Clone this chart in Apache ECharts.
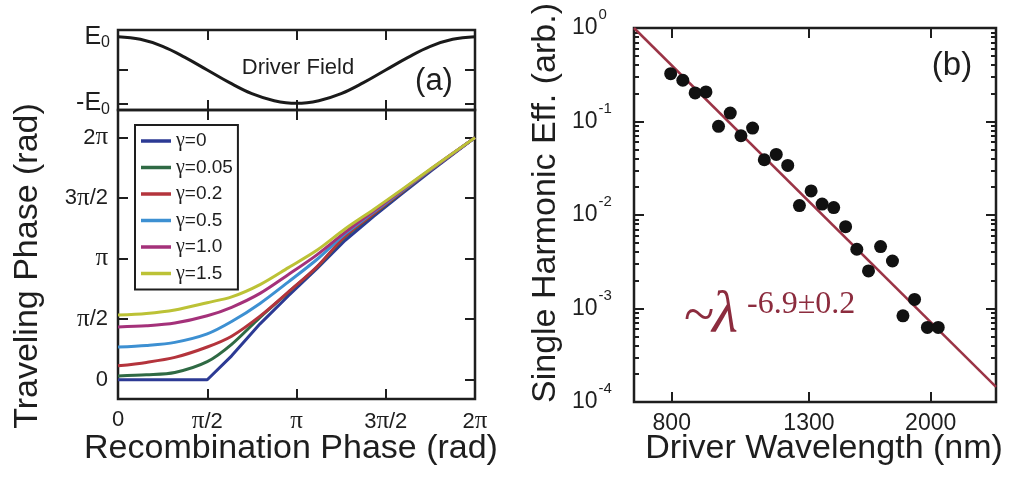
<!DOCTYPE html>
<html>
<head>
<meta charset="utf-8">
<script src="https://cdn.jsdelivr.net/npm/echarts@6/dist/echarts.min.js"></script>
<style>
  html, body { margin: 0; padding: 0; background: #fff; }
  #chart { width: 1011px; height: 481px; }
</style>
</head>
<body>
<div id="chart"></div>
<script>
const SANS = '"Liberation Sans", Arial, Helvetica, sans-serif';
const SERIF = '"Liberation Serif", "Times New Roman", serif';
const INK = '#1e1e1e';
const FIT_COLOR = '#8c2c3e';

// ---- (a) top: driver field E/E0 over one cycle ----
const fieldPhase = [0, 0.393, 0.785, 1.178, 1.571, 1.963, 2.356, 2.749, 3.142,
                    3.534, 3.927, 4.320, 4.712, 5.105, 5.498, 5.890, 6.283];
const fieldValue = [1, 0.92, 0.71, 0.38, 0, -0.38, -0.71, -0.92, -1,
                    -0.92, -0.71, -0.38, 0, 0.38, 0.71, 0.92, 1];

// ---- (a) bottom: traveling phase vs recombination phase (rad) ----
const recombPhase = [0, 0.5, 1.0, 1.571, 2.0, 2.5, 3.0, 3.5, 4.0, 4.5, 5.0, 5.5, 6.283];
const travelG0    = [0, 0, 0, 0, 0.62, 1.45, 2.18, 2.88, 3.62, 4.24, 4.83, 5.41, 6.283];
const travelG005  = [0.10, 0.13, 0.19, 0.47, 0.92, 1.62, 2.27, 2.92, 3.71, 4.30, 4.87, 5.44, 6.283];
const travelG02   = [0.36, 0.45, 0.58, 0.85, 1.13, 1.65, 2.28, 2.93, 3.73, 4.31, 4.88, 5.44, 6.283];
const travelG05   = [0.85, 0.89, 0.97, 1.19, 1.51, 1.98, 2.54, 3.12, 3.79, 4.35, 4.90, 5.45, 6.283];
const travelG10   = [1.37, 1.40, 1.47, 1.66, 1.88, 2.24, 2.73, 3.24, 3.83, 4.38, 4.92, 5.46, 6.283];
const travelG15   = [1.68, 1.72, 1.81, 2.00, 2.15, 2.47, 2.91, 3.36, 3.92, 4.42, 4.94, 5.47, 6.283];
const gammaNames  = ['γ=0', 'γ=0.05', 'γ=0.2', 'γ=0.5', 'γ=1.0', 'γ=1.5'];
const gammaColors = ['#2c3a94', '#2f6a44', '#b4343c', '#3d90d2', '#a4317a', '#bcc236'];

// ---- (b): single harmonic efficiency vs driver wavelength ----
const wavelengthNm = [797, 832, 869, 903, 944, 984, 1022, 1065, 1110, 1158, 1206, 1257,
                      1310, 1362, 1419, 1480, 1540, 1605, 1675, 1747, 1813, 1889, 1977, 2054];
const efficiency   = [0.325, 0.276, 0.202, 0.207, 0.0887, 0.123, 0.0704, 0.0851, 0.039, 0.0444,
                      0.0339, 0.0126, 0.0181, 0.0131, 0.0120, 0.00751, 0.0043, 0.00252, 0.0046,
                      0.00322, 0.000835, 0.00125, 0.000627, 0.000627];
const fitExponent = -6.9;
const fitRef = [700, 1.0];          // fit passes through this (λ, eff) point
const fitSpan = [700, 2520];        // drawn wavelength span

// ---- tick values and labels ----
const phaseTicks = [0, Math.PI / 2, Math.PI, 1.5 * Math.PI, 2 * Math.PI];
const phaseTickLabels = ['0', 'π/2', 'π', '3π/2', '2π'];
const fieldTicks = [-1, 0, 1];
const fieldLabelValues = [1, -1];
const fieldTickLabels = ['E0', '-E0'];
const wavelengthTicks = [800, 1300, 2000];
const effMajorTicks = [1e-4, 1e-3, 1e-2, 1e-1, 1];
const effMinorTicks = [];
for (const dec of [1e-4, 1e-3, 1e-2, 1e-1]) {
  for (let m = 2; m <= 9; m++) effMinorTicks.push(+(m * dec).toPrecision(3));
}

function pair(xs, ys) { return xs.map((x, i) => [x, ys[i]]); }
function piRich(s) {
  let out = '';
  for (const ch of s) out += ch === 'π' ? '{p|π}' : '{n|' + ch + '}';
  return out;
}
function phaseLabel(v) {
  const i = phaseTicks.findIndex(t => Math.abs(t - v) < 1e-6);
  return i < 0 ? '' : piRich(phaseTickLabels[i]);
}
const piRichStyle = {
  n: { fontFamily: SANS, fontSize: 22, color: INK },
  p: { fontFamily: SERIF, fontSize: 25, color: INK }
};
const noLine = { show: false, onZero: false };
const majorTick = (vals, len) => ({
  show: true, inside: true, length: len || 10, customValues: vals,
  lineStyle: { color: INK, width: 2 }
});

function phaseAxis(gridIndex, position, withLabels, range) {
  return {
    type: 'value', gridIndex, position,
    min: range[0], max: range[1],
    axisLine: noLine, splitLine: { show: false },
    axisTick: majorTick(phaseTicks),
    axisLabel: withLabels ? {
      show: true, customValues: phaseTicks, margin: 10,
      formatter: phaseLabel, rich: piRichStyle
    } : { show: false }
  };
}

const fitLine = fitSpan.map(l => [l, fitRef[1] * Math.pow(l / fitRef[0], fitExponent)]);

const chart = echarts.init(document.getElementById('chart'), null, { renderer: 'canvas' });
const gridStyle = { show: true, borderColor: INK, borderWidth: 2.5, backgroundColor: 'transparent' };
const curves = [travelG0, travelG005, travelG02, travelG05, travelG10, travelG15];

function effAxis(position, ticks, len, withLabels) {
  return {
    type: 'log', logBase: 10, gridIndex: 2, position, min: 0.99999e-4, max: 1.00001,
    axisLine: noLine, splitLine: { show: false },
    axisTick: majorTick(ticks, len),
    axisLabel: withLabels ? {
      show: true, customValues: ticks, margin: 62, align: 'left',
      formatter: v => '{b|10}{s|' + Math.round(Math.log10(v)) + '}',
      rich: {
        b: { fontFamily: SANS, fontSize: 23, color: INK },
        s: { fontFamily: SANS, fontSize: 15, color: INK, padding: [0, 0, 26, 1] }
      }
    } : { show: false }
  };
}
function wavelengthAxis(position, withLabels) {
  return {
    type: 'log', logBase: 10, gridIndex: 2, position, min: 700, max: 2520,
    axisLine: noLine, splitLine: { show: false },
    axisTick: majorTick(wavelengthTicks),
    axisLabel: withLabels ? {
      show: true, customValues: wavelengthTicks, margin: 10,
      formatter: v => String(Math.round(v)),
      fontFamily: SANS, fontSize: 23, color: INK
    } : { show: false }
  };
}
function fieldAxis(position, withLabels) {
  return {
    type: 'value', gridIndex: 0, position, min: -1.2, max: 1.2,
    axisLine: noLine, splitLine: { show: false },
    axisTick: majorTick(fieldTicks),
    axisLabel: withLabels ? {
      show: true, customValues: fieldLabelValues, margin: 8,
      formatter: v => {
        const s = fieldTickLabels[v > 0 ? 0 : 1];
        return '{e|' + s.slice(0, -1) + '}{s|' + s.slice(-1) + '}';
      },
      rich: {
        e: { fontFamily: SANS, fontSize: 25, color: INK },
        s: { fontFamily: SANS, fontSize: 16, color: INK, padding: [12, 0, 0, 0] }
      }
    } : { show: false }
  };
}

const option = {
  animation: false,
  backgroundColor: '#fff',
  textStyle: { fontFamily: SANS },
  grid: [
    Object.assign({ left: 118, top: 30, width: 357, height: 80 }, gridStyle),
    Object.assign({ left: 118, top: 110, width: 357, height: 289 }, gridStyle),
    Object.assign({ left: 634, top: 28, width: 362, height: 374 }, gridStyle)
  ],
  xAxis: [
    phaseAxis(0, 'bottom', false, [0, 2 * Math.PI]),
    phaseAxis(0, 'top', false, [0, 2 * Math.PI]),
    phaseAxis(1, 'bottom', true, [0, 2 * Math.PI]),
    phaseAxis(1, 'top', false, [0, 2 * Math.PI]),
    wavelengthAxis('bottom', true),
    wavelengthAxis('top', false)
  ],
  yAxis: [
    fieldAxis('left', true),
    fieldAxis('right', false),
    phaseAxis(1, 'left', true, [-0.5, 7]),
    phaseAxis(1, 'right', false, [-0.5, 7]),
    effAxis('left', effMajorTicks, 10, true),
    effAxis('right', effMajorTicks, 10, false),
    effAxis('left', effMinorTicks, 5, false),
    effAxis('right', effMinorTicks, 5, false)
  ],
  legend: {
    data: gammaNames,
    orient: 'vertical', left: 135, top: 125,
    padding: [6, 5, 6, 6], itemGap: 6.5,
    itemWidth: 30, itemHeight: 3.5, icon: 'rect',
    borderColor: INK, borderWidth: 2, backgroundColor: '#fff',
    selectedMode: false,
    formatter: name => '{g|γ}{t|' + name.slice(1) + '}',
    textStyle: {
      color: INK, lineHeight: 20,
      rich: {
        g: { fontFamily: SERIF, fontSize: 20, lineHeight: 20, color: INK },
        t: { fontFamily: SANS, fontSize: 19, lineHeight: 20, color: INK }
      }
    }
  },
  series: [
    {
      type: 'line', xAxisIndex: 0, yAxisIndex: 0, data: pair(fieldPhase, fieldValue),
      smooth: 0.4, symbol: 'none', lineStyle: { color: '#1a1a1a', width: 3 }, z: 3
    }
  ].concat(curves.map((vals, i) => ({
    name: gammaNames[i], type: 'line', xAxisIndex: 2, yAxisIndex: 2,
    data: pair(recombPhase, vals), smooth: i === 0 ? false : 0.3, symbol: 'none',
    color: gammaColors[i], lineStyle: { color: gammaColors[i], width: 3 }, z: 3 + i
  }))).concat([
    {
      type: 'line', xAxisIndex: 4, yAxisIndex: 4, data: fitLine, symbol: 'none',
      lineStyle: { color: '#9b3446', width: 2.5 }, z: 3
    },
    {
      type: 'scatter', xAxisIndex: 4, yAxisIndex: 4, data: pair(wavelengthNm, efficiency),
      symbol: 'circle', symbolSize: 13, itemStyle: { color: '#111', opacity: 1 }, z: 4
    }
  ]),
  graphic: [
    { type: 'text', x: 298, y: 68, style: { text: 'Driver Field', font: '22px ' + SANS, fill: INK, align: 'center', verticalAlign: 'middle' } },
    { type: 'text', x: 434, y: 81, style: { text: '(a)', font: '31px ' + SANS, fill: INK, align: 'center', verticalAlign: 'middle' } },
    { type: 'text', x: 952, y: 66, style: { text: '(b)', font: '33px ' + SANS, fill: INK, align: 'center', verticalAlign: 'middle' } },
    { type: 'text', x: 28, y: 266, rotation: Math.PI / 2, style: { text: 'Traveling Phase (rad)', font: '34px ' + SANS, fill: INK, align: 'center', verticalAlign: 'middle' } },
    { type: 'text', x: 291, y: 449, style: { text: 'Recombination Phase (rad)', font: '34px ' + SANS, fill: INK, align: 'center', verticalAlign: 'middle' } },
    { type: 'text', x: 546, y: 203, rotation: Math.PI / 2, style: { text: 'Single Harmonic Eff. (arb.)', font: '34px ' + SANS, fill: INK, align: 'center', verticalAlign: 'middle' } },
    { type: 'text', x: 824, y: 449, style: { text: 'Driver Wavelength (nm)', font: '34px ' + SANS, fill: INK, align: 'center', verticalAlign: 'middle' } },
    { type: 'text', x: 684, y: 318, style: { text: '~', font: '56px ' + SERIF, fill: FIT_COLOR, align: 'left', verticalAlign: 'middle' } },
    { type: 'text', x: 712, y: 316, style: { text: 'λ', font: 'italic 60px ' + SERIF, fill: FIT_COLOR, align: 'left', verticalAlign: 'middle' } },
    { type: 'text', x: 747, y: 305, style: { text: '-6.9±0.2', font: '32px ' + SERIF, fill: FIT_COLOR, align: 'left', verticalAlign: 'middle' } }
  ]
};

chart.setOption(option);
</script>
</body>
</html>
